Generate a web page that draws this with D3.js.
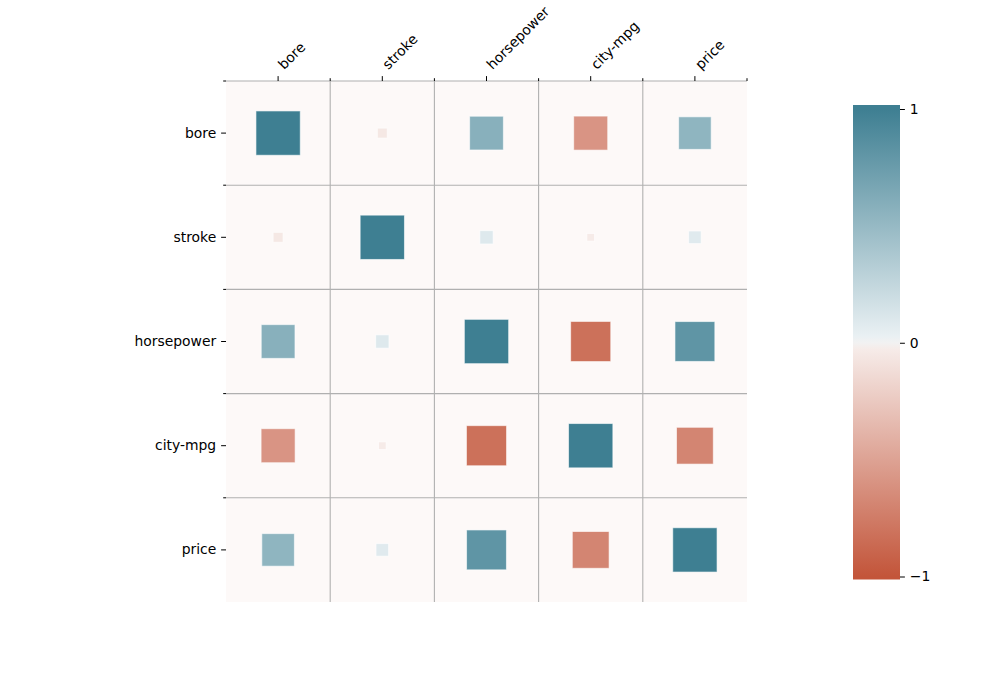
<!DOCTYPE html>
<html>
<head>
<meta charset="utf-8">
<script src="https://cdn.jsdelivr.net/npm/d3@7"></script>
<style>
  body { margin: 0; background: #fff; }
  text { font-family: "DejaVu Sans", sans-serif; font-size: 13.9px; fill: #000; }
</style>
</head>
<body>
<div id="chart"></div>
<script>
// data: correlation matrix of the auto dataset columns
const columns = ["bore", "stroke", "horsepower", "city-mpg", "price"];
const boreRow = [1.00, -0.05, 0.58, -0.59, 0.54];
const strokeRow = [-0.05, 1.00, 0.09, -0.03, 0.08];
const horsepowerRow = [0.58, 0.09, 1.00, -0.82, 0.81];
const cityMpgRow = [-0.59, -0.03, -0.82, 1.00, -0.69];
const priceRow = [0.54, 0.08, 0.81, -0.69, 1.00];
const colorbarTicks = [-1, 0, 1];

const rows = [boreRow, strokeRow, horsepowerRow, cityMpgRow, priceRow];
const cells = [];
rows.forEach((r, i) => r.forEach((v, j) => cells.push({ y: columns[i], x: columns[j], value: v })));

const width = 1000, height = 677;
const plot = { left: 226, right: 747, top: 81, bottom: 602 };

const svg = d3.select("#chart").append("svg")
    .attr("width", width)
    .attr("height", height);

const x = d3.scaleBand().domain(columns).range([plot.left, plot.right]);
const y = d3.scaleBand().domain(columns).range([plot.top, plot.bottom]);
const size = d3.scaleSqrt().domain([0, 1]).range([0, 44.3]);
// diverging palette: red -> tinted light -> gray -> tinted light -> teal
const color = d3.scaleLinear()
    .domain([-1, -0.03, 0, 0.03, 1])
    .range(["#c3553a", "#f6ebe8", "#f2f2f2", "#e9f0f3", "#3e7f92"])
    .interpolate(d3.interpolateRgb);

// plot background
svg.append("rect")
    .attr("x", plot.left).attr("y", plot.top)
    .attr("width", plot.right - plot.left).attr("height", plot.bottom - plot.top)
    .attr("fill", "#fdf9f8");

// grid on cell boundaries (top edge and inner lines)
const bounds = columns.map(c => x(c) + x.bandwidth());
const grid = svg.append("g").attr("stroke", "#b0b0b0").attr("stroke-width", 1.1);
bounds.slice(0, -1).forEach(bx => {
    grid.append("line").attr("x1", bx).attr("x2", bx).attr("y1", plot.top).attr("y2", plot.bottom);
});
columns.map(c => y(c)).forEach(by => {
    grid.append("line").attr("x1", plot.left).attr("x2", plot.right).attr("y1", by).attr("y2", by);
});

// squares
svg.append("g").selectAll("rect")
    .data(cells)
    .join("rect")
    .attr("x", d => x(d.x) + x.bandwidth() / 2 - size(Math.abs(d.value)) / 2)
    .attr("y", d => y(d.y) + y.bandwidth() / 2 - size(Math.abs(d.value)) / 2)
    .attr("width", d => size(Math.abs(d.value)))
    .attr("height", d => size(Math.abs(d.value)))
    .attr("fill", d => color(d.value))
    .attr("stroke", "#ffffff")
    .attr("stroke-opacity", 0.6)
    .attr("stroke-width", 1);

// axes
const xAxis = svg.append("g")
    .attr("transform", `translate(0,${plot.top})`)
    .call(d3.axisTop(x).tickSize(4.9).tickPadding(3).tickFormat(""));
xAxis.select(".domain").remove();
xAxis.append("g").selectAll("line")
    .data(bounds)
    .join("line")
    .attr("x1", d => d).attr("x2", d => d)
    .attr("y1", 0).attr("y2", -2.8)
    .attr("stroke", "#000");

svg.append("g").selectAll("text")
    .data(columns)
    .join("text")
    .attr("transform", d => `translate(${x(d) + x.bandwidth() / 2 + 6},70.2) rotate(-45)`)
    .text(d => d);

const yAxis = svg.append("g")
    .attr("transform", `translate(${plot.left},0)`)
    .call(d3.axisLeft(y).tickSize(4.9).tickPadding(4.9));
yAxis.select(".domain").remove();
yAxis.selectAll("text")
    .attr("font-family", "DejaVu Sans")
    .attr("font-size", 13.9)
    .attr("fill", "#000");
yAxis.append("g").selectAll("line")
    .data(columns.map(c => y(c)))
    .join("line")
    .attr("x1", 0).attr("x2", -2.8)
    .attr("y1", d => d).attr("y2", d => d)
    .attr("stroke", "#000");

// colorbar
const cb = { left: 853, right: 900, top: 105, bottom: 579.5 };
const cy = d3.scaleLinear().domain([-1, 1]).range([576.5, 109]);

const grad = svg.append("defs").append("linearGradient")
    .attr("id", "cbgrad")
    .attr("x1", 0).attr("x2", 0).attr("y1", 1).attr("y2", 0);
color.domain().forEach(v => {
    grad.append("stop")
        .attr("offset", (cb.bottom - cy(v)) / (cb.bottom - cb.top))
        .attr("stop-color", color(v));
});

svg.append("rect")
    .attr("x", cb.left).attr("y", cb.top)
    .attr("width", cb.right - cb.left).attr("height", cb.bottom - cb.top)
    .attr("fill", "url(#cbgrad)");

const cbAxis = svg.append("g")
    .attr("transform", `translate(${cb.right},0)`)
    .call(d3.axisRight(cy).tickValues(colorbarTicks).tickSize(4.9).tickPadding(4.9)
        .tickFormat(d => d < 0 ? "\u2212" + Math.abs(d) : d));
cbAxis.select(".domain").remove();
cbAxis.selectAll("text")
    .attr("font-family", "DejaVu Sans")
    .attr("font-size", 13.9)
    .attr("fill", "#000");
</script>
</body>
</html>
